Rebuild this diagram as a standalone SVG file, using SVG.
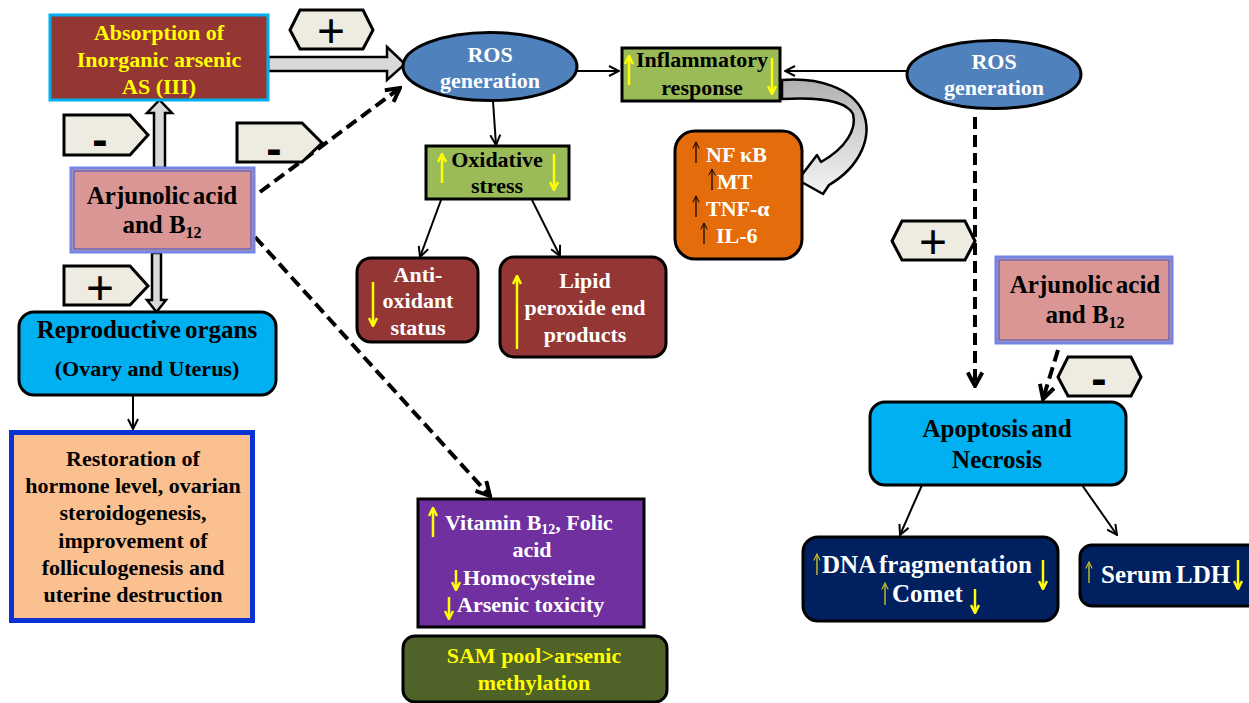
<svg xmlns="http://www.w3.org/2000/svg" width="1249" height="703" viewBox="0 0 1249 703">
<defs>
<style>
.t{font-family:"Liberation Serif","Times New Roman",serif;font-weight:bold;font-size:22px;text-anchor:middle}
.big{font-size:25px}
.l{text-anchor:start}
.w{fill:#ffffff}.y{fill:#ffff00}.k{fill:#000000}
.sign{font-family:"Liberation Sans",Arial,sans-serif;text-anchor:middle;fill:#000}
.plus{font-size:48px}
.minus{font-size:46px;font-weight:bold}
.tag{fill:#eeece1;stroke:#000;stroke-width:3}
.blk{fill:#d9d9d9;stroke:#000;stroke-width:2.5}
.ln{stroke:#000;stroke-width:2;fill:none;marker-end:url(#ah)}
.dash{stroke:#000;stroke-width:4;stroke-dasharray:12 6;fill:none;marker-end:url(#dh)}
.ya{stroke:#ffff00;stroke-width:2.5;fill:none;marker-end:url(#yh)}
.oa{stroke:#b8b82a;stroke-width:1.5;fill:none;marker-end:url(#oh)}
.ka{stroke:#000;stroke-width:1.2;fill:none;marker-end:url(#kh)}
</style>
<marker id="ah" viewBox="0 0 12 12" refX="11" refY="6" markerWidth="12" markerHeight="12" markerUnits="userSpaceOnUse" orient="auto"><path d="M1,1 L11,6 L1,11" fill="none" stroke="#000" stroke-width="2"/></marker>
<marker id="dh" viewBox="0 0 16 16" refX="14" refY="8" markerWidth="18" markerHeight="18" markerUnits="userSpaceOnUse" orient="auto"><path d="M2,1.5 L14,8 L2,14.5" fill="none" stroke="#000" stroke-width="3.5"/></marker>
<marker id="yh" viewBox="0 0 10 10" refX="9" refY="5" markerWidth="10" markerHeight="10" markerUnits="userSpaceOnUse" orient="auto"><path d="M1,1 L9,5 L1,9" fill="none" stroke="#ffff00" stroke-width="2.5"/></marker>
<marker id="oh" viewBox="0 0 10 10" refX="9" refY="5" markerWidth="8" markerHeight="8" markerUnits="userSpaceOnUse" orient="auto"><path d="M1,1 L9,5 L1,9" fill="none" stroke="#b8b82a" stroke-width="1.5"/></marker>
<marker id="kh" viewBox="0 0 10 10" refX="9" refY="5" markerWidth="8" markerHeight="8" markerUnits="userSpaceOnUse" orient="auto"><path d="M1,1 L9,5 L1,9" fill="none" stroke="#000" stroke-width="1.2"/></marker>
<linearGradient id="cg" x1="0" y1="0" x2="0" y2="1"><stop offset="0" stop-color="#b0b0b0"/><stop offset="0.45" stop-color="#d0d0d0"/><stop offset="1" stop-color="#f4f4f4"/></linearGradient>
</defs>
<rect width="1249" height="703" fill="#ffffff"/>

<g id="connectors">
<polygon class="blk" points="268,57 387,57 387,47 405,64 387,80 387,71 268,71"/>
<polygon class="blk" points="154,168 154,113 147,113 159.5,100 172,113 165,113 165,168"/>
<polygon class="blk" points="152,253 161,253 161,300 166,300 156.5,312 147,300 152,300"/>
<line class="ln" x1="577" y1="71" x2="619" y2="71"/>
<line class="ln" x1="907" y1="71" x2="785" y2="71"/>
<line class="ln" x1="493" y1="101" x2="496" y2="145"/>
<line class="ln" x1="441" y1="200" x2="420" y2="257"/>
<line class="ln" x1="532" y1="200" x2="560" y2="256"/>
<line class="ln" x1="133" y1="395" x2="133" y2="429"/>
<line class="ln" x1="922" y1="485" x2="900" y2="535"/>
<line class="ln" x1="1082" y1="485" x2="1117" y2="535"/>
<path d="M782,80 C818,77 852,88 863,112 C873,136 861,166 829,185 L823,194 L798,180 L817,155 L821,162 C846,148 857,129 853,114 C846,100 815,97 782,99 Z" fill="url(#cg)" stroke="#000" stroke-width="2.5" stroke-linejoin="round"/>
<line class="dash" x1="260" y1="192" x2="400" y2="88"/>
<line class="dash" x1="255" y1="237" x2="490" y2="496"/>
<line class="dash" x1="975" y1="117" x2="975" y2="386"/>
<line class="dash" x1="1058" y1="350" x2="1043" y2="399"/>
</g>

<g id="tag-plus-top"><polygon class="tag" points="300,10 363,10 373,30 363,49 300,49 290,30"/><text class="sign plus" x="331" y="47">+</text></g>
<g id="tag-minus-1"><polygon class="tag" points="64,115 130,115 148,135 130,155 64,155"/><text class="sign minus" x="100" y="155">-</text></g>
<g id="tag-minus-2"><polygon class="tag" points="237,123 302,123 322,143 302,162 237,162"/><text class="sign minus" x="274" y="164">-</text></g>
<g id="tag-plus-left"><polygon class="tag" points="64,266 130,266 148,286 130,305 64,305"/><text class="sign plus" x="100" y="304">+</text></g>
<g id="tag-plus-right"><polygon class="tag" points="902,221 965,221 975,241 965,260 902,260 892,241"/><text class="sign plus" x="933" y="258">+</text></g>
<g id="tag-minus-right"><polygon class="tag" points="1068,357 1131,357 1141,377 1131,396 1068,396 1058,377"/><text class="sign minus" x="1099" y="394">-</text></g>

<g id="absorption">
<rect x="50" y="15" width="218" height="85" fill="#943634" stroke="#00b0f0" stroke-width="3"/>
<text class="t y" x="159" y="40">Absorption of</text>
<text class="t y" x="159" y="67">Inorganic arsenic</text>
<text class="t y" x="159" y="94">AS (III)</text>
</g>

<g id="ros1">
<ellipse cx="490" cy="66.5" rx="87" ry="34" fill="#4f81bd" stroke="#000" stroke-width="3"/>
<text class="t w" x="490" y="62">ROS</text>
<text class="t w" x="490" y="88">generation</text>
</g>

<g id="inflammatory">
<rect x="622" y="48" width="158" height="53" fill="#9bbb59" stroke="#000" stroke-width="3"/>
<text class="t k" x="702" y="67">Inflammatory</text>
<text class="t k" x="702" y="95">response</text>
<line class="ya" x1="629" y1="85" x2="629" y2="56"/>
<line class="ya" x1="772" y1="58" x2="772" y2="94"/>
</g>

<g id="ros2">
<ellipse cx="994" cy="74.5" rx="87" ry="34" fill="#4f81bd" stroke="#000" stroke-width="3"/>
<text class="t w" x="994" y="69">ROS</text>
<text class="t w" x="994" y="95">generation</text>
</g>

<g id="cytokines">
<rect x="675" y="131" width="127" height="128" rx="20" fill="#e46c0a" stroke="#000" stroke-width="3"/>
<line class="ka" x1="696" y1="163" x2="696" y2="142"/>
<text class="t w l" x="706" y="162">NF κB</text>
<line class="ka" x1="712" y1="190" x2="712" y2="169"/>
<text class="t w l" x="717" y="189">MT</text>
<line class="ka" x1="696" y1="217" x2="696" y2="196"/>
<text class="t w l" x="706" y="216">TNF-α</text>
<line class="ka" x1="704" y1="244" x2="704" y2="223"/>
<text class="t w l" x="716" y="243">IL-6</text>
</g>

<g id="oxidative">
<rect x="426" y="146" width="143" height="53" fill="#9bbb59" stroke="#000" stroke-width="3"/>
<text class="t k" x="497" y="167">Oxidative</text>
<text class="t k" x="497" y="193">stress</text>
<line class="ya" x1="442" y1="183" x2="442" y2="154"/>
<line class="ya" x1="554" y1="154" x2="554" y2="190"/>
</g>

<g id="antioxidant">
<rect x="357" y="258" width="121" height="84" rx="14" fill="#943634" stroke="#000" stroke-width="3"/>
<text class="t w" x="418" y="282">Anti-</text>
<text class="t w" x="418" y="308">oxidant</text>
<text class="t w" x="418" y="335">status</text>
<line class="ya" x1="373" y1="282" x2="373" y2="326"/>
</g>

<g id="lipid">
<rect x="500" y="257" width="166" height="100" rx="14" fill="#943634" stroke="#000" stroke-width="3"/>
<text class="t w" x="585" y="288">Lipid</text>
<text class="t w" x="585" y="315">peroxide end</text>
<text class="t w" x="585" y="342">products</text>
<line class="ya" x1="517" y1="349" x2="517" y2="276"/>
</g>

<g id="arjunolic-1">
<rect x="71" y="168" width="183" height="84" fill="#d99694" stroke="#6f86e6" stroke-width="3"/>
<rect x="74" y="171" width="177" height="78" fill="none" stroke="#3050c8" stroke-width="1"/>
<text class="t k big" x="162" y="204" word-spacing="-3">Arjunolic acid</text>
<text class="t k big" x="162" y="233">and B<tspan font-size="16" dy="5">12</tspan></text>
</g>

<g id="reproductive">
<rect x="19" y="312" width="257" height="83" rx="15" fill="#00b0f0" stroke="#000" stroke-width="3"/>
<text class="t k big" x="147" y="338" word-spacing="-2">Reproductive organs</text>
<text class="t k" x="147" y="376">(Ovary and Uterus)</text>
</g>

<g id="restoration">
<rect x="11.5" y="432.5" width="241" height="188" fill="#fac090" stroke="#0a32d2" stroke-width="5"/>
<text class="t k" x="133" y="466">Restoration of</text>
<text class="t k" x="133" y="493">hormone level, ovarian</text>
<text class="t k" x="133" y="520">steroidogenesis,</text>
<text class="t k" x="133" y="548">improvement of</text>
<text class="t k" x="133" y="575">folliculogenesis and</text>
<text class="t k" x="133" y="602">uterine destruction</text>
</g>

<g id="vitamin">
<rect x="418" y="499" width="226" height="128" fill="#7030a0" stroke="#000" stroke-width="3"/>
<line class="ya" x1="433" y1="537" x2="433" y2="508"/>
<text class="t w l" x="445" y="530">Vitamin B<tspan font-size="14" dy="4">12</tspan><tspan dy="-4">, Folic</tspan></text>
<text class="t w" x="532" y="557">acid</text>
<line class="ya" x1="456" y1="570" x2="456" y2="590"/>
<text class="t w l" x="463" y="585">Homocysteine</text>
<line class="ya" x1="449" y1="597" x2="449" y2="619"/>
<text class="t w l" x="457" y="612">Arsenic toxicity</text>
</g>

<g id="sam">
<rect x="403" y="636" width="264" height="66" rx="12" fill="#4f6228" stroke="#000" stroke-width="3"/>
<text class="t y" x="534" y="663">SAM pool&gt;arsenic</text>
<text class="t y" x="534" y="690">methylation</text>
</g>

<g id="arjunolic-2">
<rect x="996" y="257" width="176" height="86" fill="#d99694" stroke="#6f86e6" stroke-width="3"/>
<rect x="999" y="260" width="170" height="80" fill="none" stroke="#3050c8" stroke-width="1"/>
<text class="t k big" x="1085" y="293" word-spacing="-3">Arjunolic acid</text>
<text class="t k big" x="1085" y="323">and B<tspan font-size="16" dy="5">12</tspan></text>
</g>

<g id="apoptosis">
<rect x="870" y="402" width="256" height="83" rx="15" fill="#00b0f0" stroke="#000" stroke-width="3"/>
<text class="t k big" x="997" y="437" word-spacing="-3">Apoptosis and</text>
<text class="t k big" x="997" y="468">Necrosis</text>
</g>

<g id="dna">
<rect x="803" y="537" width="255" height="84" rx="15" fill="#002060" stroke="#000" stroke-width="3"/>
<line class="oa" x1="817" y1="575" x2="817" y2="554"/>
<text class="t w l big" x="822" y="573" word-spacing="-2">DNA fragmentation</text>
<line class="ya" x1="1043" y1="560" x2="1043" y2="589"/>
<line class="oa" x1="885" y1="605" x2="885" y2="583"/>
<text class="t w l big" x="892" y="602">Comet</text>
<line class="ya" x1="975" y1="589" x2="975" y2="613"/>
</g>

<g id="serum">
<rect x="1080" y="545" width="180" height="61" rx="12" fill="#002060" stroke="#000" stroke-width="3"/>
<line class="oa" x1="1089" y1="583" x2="1089" y2="562"/>
<text class="t w l big" x="1101" y="583" word-spacing="-2">Serum LDH</text>
<line class="ya" x1="1238" y1="560" x2="1238" y2="589"/>
</g>
</svg>
